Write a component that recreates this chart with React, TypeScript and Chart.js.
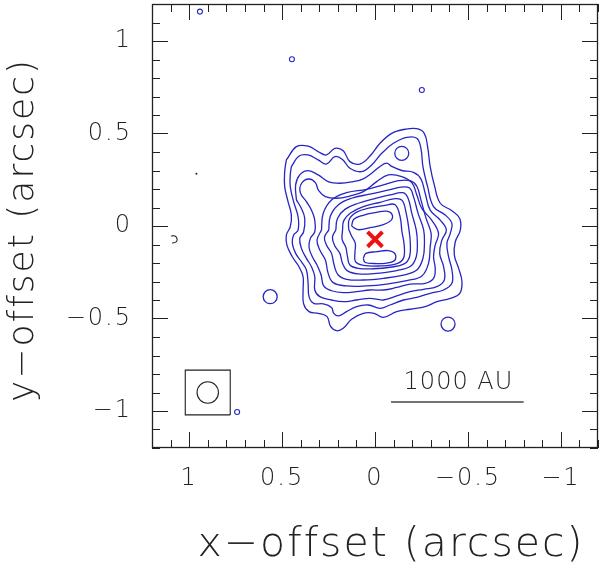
import React, { useEffect, useRef } from "react";
import { Chart, registerables } from "chart.js";
Chart.register(...registerables);

type P = [number, number];

// axis setup (arcsec)
const axisMin = -1.2;
const axisMax = 1.2;
const minorStep = 0.1;
const majorTicks = [-1, -0.5, 0, 0.5, 1];
const majorTickLabels = ["−1", "−0.5", "0", "0.5", "1"];
const xTitle = "x−offset (arcsec)";
const yTitle = "y−offset (arcsec)";

// contour levels, outermost first (x, y offsets in arcsec)
const contour1: P[] = [
  [0.477, 0.357], [0.423, 0.429], [0.36, 0.432], [0.306, 0.402], [0.261, 0.384], [0.216, 0.42], [0.171, 0.407],
  [0.135, 0.348], [0.081, 0.335], [0.027, 0.378], [-0.027, 0.447], [-0.09, 0.501], [-0.162, 0.523], [-0.225, 0.526],
  [-0.265, 0.501], [-0.283, 0.429], [-0.297, 0.321], [-0.319, 0.222], [-0.351, 0.123], [-0.414, 0.083], [-0.456, 0.041],
  [-0.459, -0.022], [-0.432, -0.085], [-0.427, -0.157], [-0.45, -0.229], [-0.468, -0.301], [-0.456, -0.364],
  [-0.405, -0.391], [-0.333, -0.409], [-0.27, -0.436], [-0.189, -0.45], [-0.117, -0.463], [-0.045, -0.494],
  [0.005, -0.472], [0.063, -0.472], [0.126, -0.504], [0.171, -0.553], [0.207, -0.566], [0.24, -0.541], [0.258, -0.49],
  [0.306, -0.472], [0.355, -0.463], [0.384, -0.421], [0.387, -0.346], [0.387, -0.274], [0.409, -0.22], [0.445, -0.166],
  [0.474, -0.103], [0.477, -0.049], [0.456, -0.004], [0.45, 0.059], [0.468, 0.132], [0.486, 0.213], [0.486, 0.294],
];
const contour2: P[] = [
  [0.45, 0.321], [0.409, 0.378], [0.36, 0.384], [0.306, 0.357], [0.261, 0.335], [0.216, 0.375], [0.175, 0.36],
  [0.135, 0.312], [0.072, 0.294], [0.018, 0.33], [-0.036, 0.393], [-0.099, 0.447], [-0.171, 0.479], [-0.225, 0.474],
  [-0.247, 0.42], [-0.258, 0.321], [-0.283, 0.213], [-0.315, 0.105], [-0.378, 0.059], [-0.414, 0.014], [-0.405, -0.04],
  [-0.387, -0.094], [-0.396, -0.166], [-0.414, -0.238], [-0.414, -0.31], [-0.369, -0.346], [-0.297, -0.364],
  [-0.225, -0.386], [-0.153, -0.4], [-0.081, -0.427], [-0.027, -0.445], [0.036, -0.427], [0.099, -0.436],
  [0.153, -0.463], [0.195, -0.486], [0.222, -0.472], [0.234, -0.44], [0.279, -0.421], [0.33, -0.418], [0.355, -0.382],
  [0.36, -0.31], [0.369, -0.238], [0.396, -0.193], [0.427, -0.148], [0.445, -0.094], [0.438, -0.049], [0.414, -0.022],
  [0.414, 0.05], [0.438, 0.132], [0.456, 0.213], [0.456, 0.276],
];
const contour3: P[] = [
  [0.423, 0.141], [0.427, 0.222], [0.405, 0.276], [0.36, 0.299], [0.306, 0.276], [0.252, 0.24], [0.189, 0.231],
  [0.117, 0.24], [0.063, 0.255], [0.018, 0.285], [-0.027, 0.322], [-0.063, 0.34], [-0.09, 0.322], [-0.144, 0.3],
  [-0.207, 0.29], [-0.247, 0.255], [-0.27, 0.177], [-0.297, 0.086], [-0.351, 0.032], [-0.384, -0.022], [-0.36, -0.076],
  [-0.348, -0.148], [-0.369, -0.22], [-0.373, -0.292], [-0.333, -0.328], [-0.261, -0.342], [-0.189, -0.355],
  [-0.117, -0.378], [-0.045, -0.4], [0.027, -0.391], [0.099, -0.4], [0.171, -0.409], [0.234, -0.4], [0.297, -0.382],
  [0.324, -0.346], [0.324, -0.274], [0.342, -0.22], [0.369, -0.175], [0.396, -0.121], [0.405, -0.067], [0.384, -0.031],
  [0.378, 0.041], [0.396, 0.095],
];
const contour4: P[] = [
  [0.369, 0.132], [0.402, 0.18], [0.395, 0.231], [0.355, 0.254], [0.321, 0.234], [0.303, 0.191], [0.267, 0.159],
  [0.207, 0.15], [0.135, 0.162], [0.063, 0.186], [-0.009, 0.24], [-0.072, 0.276], [-0.144, 0.267], [-0.198, 0.234],
  [-0.225, 0.168], [-0.252, 0.095], [-0.305, 0.032], [-0.342, -0.04], [-0.324, -0.103], [-0.315, -0.166],
  [-0.324, -0.229], [-0.315, -0.283], [-0.27, -0.31], [-0.189, -0.314], [-0.117, -0.332], [-0.045, -0.346],
  [0.027, -0.346], [0.099, -0.355], [0.171, -0.36], [0.234, -0.35], [0.276, -0.324], [0.29, -0.265], [0.312, -0.211],
  [0.337, -0.166], [0.355, -0.115], [0.348, -0.067], [0.324, -0.031], [0.324, 0.032], [0.342, 0.086],
];
const contour5: P[] = [
  [0.288, -0.022], [0.279, 0.068], [0.234, 0.141], [0.153, 0.18], [0.045, 0.198], [-0.045, 0.222], [-0.126, 0.245],
  [-0.189, 0.245], [-0.225, 0.215], [-0.247, 0.141], [-0.275, 0.041], [-0.302, -0.04], [-0.297, -0.112],
  [-0.288, -0.202], [-0.252, -0.27], [-0.171, -0.295], [-0.063, -0.314], [0.045, -0.324], [0.153, -0.324],
  [0.225, -0.306], [0.252, -0.256], [0.267, -0.184], [0.297, -0.13], [0.312, -0.076],
];
const contour6: P[] = [
  [0.249, -0.022], [0.24, 0.054], [0.198, 0.114], [0.126, 0.15], [0.027, 0.172], [-0.063, 0.192], [-0.139, 0.21],
  [-0.186, 0.205], [-0.207, 0.159], [-0.232, 0.068], [-0.262, -0.022], [-0.266, -0.094], [-0.258, -0.175],
  [-0.225, -0.238], [-0.153, -0.265], [-0.045, -0.283], [0.063, -0.292], [0.153, -0.288], [0.198, -0.265],
  [0.22, -0.211], [0.234, -0.148], [0.261, -0.103], [0.272, -0.061],
];
const contour7: P[] = [
  [0.211, -0.022], [0.202, 0.041], [0.162, 0.09], [0.09, 0.123], [0.0, 0.148], [-0.081, 0.168], [-0.15, 0.18],
  [-0.178, 0.15], [-0.198, 0.068], [-0.222, -0.022], [-0.228, -0.094], [-0.222, -0.166], [-0.193, -0.216],
  [-0.117, -0.241], [-0.009, -0.256], [0.09, -0.259], [0.15, -0.241], [0.175, -0.202], [0.189, -0.148],
  [0.216, -0.108], [0.229, -0.061],
];
const contour8: P[] = [
  [0.175, -0.025], [0.168, 0.029], [0.132, 0.07], [0.063, 0.105], [-0.027, 0.128], [-0.108, 0.148], [-0.146, 0.138],
  [-0.168, 0.068], [-0.183, -0.022], [-0.19, -0.094], [-0.186, -0.166], [-0.157, -0.205], [-0.081, -0.223],
  [0.009, -0.231], [0.09, -0.229], [0.135, -0.211], [0.148, -0.166], [0.157, -0.115], [0.177, -0.072],
];
const contour9: P[] = [
  [0.142, -0.018], [0.139, 0.035], [0.099, 0.075], [0.027, 0.098], [-0.054, 0.112], [-0.108, 0.115], [-0.135, 0.05],
  [-0.145, -0.031], [-0.157, -0.103], [-0.153, -0.175], [-0.114, -0.205], [-0.027, -0.216], [0.063, -0.213],
  [0.105, -0.193], [0.108, -0.144], [0.106, -0.094], [0.126, -0.054],
];
const peakNorth: P[] = [
  [0.126, 0.0], [0.114, 0.036], [0.063, 0.058], [0.0, 0.072], [-0.063, 0.08], [-0.092, 0.062], [-0.085, 0.029],
  [-0.036, 0.005], [0.027, -0.009], [0.09, -0.02],
];
const peakSouth: P[] = [
  [0.063, -0.175], [0.049, -0.148], [-0.009, -0.139], [-0.072, -0.133], [-0.108, -0.151], [-0.105, -0.187],
  [-0.054, -0.202], [0.018, -0.202], [0.054, -0.196],
];
const contours: P[][] = [contour1, contour2, contour3, contour4, contour5, contour6, contour7, contour8, contour9, peakNorth, peakSouth];

// isolated small contours
const islandX = [0.564, -0.393, -0.144];
const islandY = [-0.382, -0.53, 0.393];
const specX = [-0.252, 0.447, 0.942, 0.742];
const specY = [0.735, 0.901, 1.159, -1.005];
const hookX = [1.097, 1.076, 1.065, 1.07, 1.092];
const hookY = [-0.054, -0.054, -0.07, -0.086, -0.092];
const dotX = [0.961];
const dotY = [0.283];

// source position
const sourceX = [0];
const sourceY = [-0.072];

// beam
const beamCenter: P = [0.9, -0.9];
const beamHalfBox = 0.121;

// scale bar
const scaleBarX = [-0.086, -0.8];
const scaleBarY = [-0.951, -0.951];
const scaleBarLabel = "1000 AU";
const scaleBarLabelPos: P = [-0.449, -0.846];

const BLUE = "#2626c4";
const INK = "#222222";
const FONT = "'DejaVu Sans', 'Liberation Sans', sans-serif";

const isMajor = (v: number) => majorTicks.some((m) => Math.abs(m - v) < 1e-6);

const toPts = (arr: P[]) => {
  const pts = arr.map(([x, y]) => ({ x, y }));
  pts.push({ ...pts[0] });
  return pts;
};

const zeroPad = (s: any) => {
  s.paddingTop = 0;
  s.paddingBottom = 0;
  s.paddingLeft = 0;
  s.paddingRight = 0;
};

const framePlugin = {
  id: "frameTicks",
  beforeDraw(chart: any) {
    chart.ctx.letterSpacing = "2px";
  },
  beforeDatasetsDraw(chart: any) {
    chart.ctx.letterSpacing = "0px";
  },
  afterDraw(chart: any) {
    const { ctx, chartArea: a, scales } = chart;
    const xs = scales.x;
    const ys = scales.y;
    ctx.save();
    ctx.strokeStyle = INK;
    ctx.lineWidth = 1;
    ctx.beginPath();
    xs.ticks.forEach((t: any) => {
      const px = Math.round(xs.getPixelForValue(t.value)) + 0.5;
      const len = isMajor(t.value) ? 16 : 8;
      ctx.moveTo(px, a.bottom);
      ctx.lineTo(px, a.bottom - len);
      ctx.moveTo(px, a.top);
      ctx.lineTo(px, a.top + len);
    });
    ys.ticks.forEach((t: any) => {
      const py = Math.round(ys.getPixelForValue(t.value)) + 0.5;
      const len = isMajor(t.value) ? 16 : 8;
      ctx.moveTo(a.left, py);
      ctx.lineTo(a.left + len, py);
      ctx.moveTo(a.right, py);
      ctx.lineTo(a.right - len, py);
    });
    ctx.stroke();
    ctx.lineWidth = 1.3;
    ctx.strokeRect(a.left + 0.5, a.top + 0.5, a.right - a.left - 1, a.bottom - a.top - 1);

    ctx.fillStyle = INK;
    ctx.textAlign = "center";
    ctx.textBaseline = "middle";
    // scale bar label
    ctx.letterSpacing = "1px";
    ctx.font = `200 24px ${FONT}`;
    ctx.fillText(scaleBarLabel, xs.getPixelForValue(scaleBarLabelPos[0]), ys.getPixelForValue(scaleBarLabelPos[1]));
    // axis titles
    ctx.letterSpacing = "2px";
    ctx.font = `200 41px ${FONT}`;
    ctx.fillText(xTitle, (a.left + a.right) / 2 + 16, 545);
    ctx.font = `200 36px ${FONT}`;
    ctx.translate(24, (a.top + a.bottom) / 2 + 4);
    ctx.rotate(-Math.PI / 2);
    ctx.fillText(yTitle, 0, 0);
    ctx.restore();
  },
};

export default function App() {
  const ref = useRef<HTMLCanvasElement | null>(null);
  useEffect(() => {
    if (!ref.current) return;
    const datasets: any[] = contours.map((c) => ({
      data: toPts(c),
      showLine: true,
      borderColor: BLUE,
      borderWidth: 1.3,
      pointRadius: 0,
      tension: 0.4,
      fill: false,
    }));
    datasets.push({
      data: islandX.map((x, i) => ({ x, y: islandY[i] })),
      pointStyle: "circle",
      pointRadius: 7,
      borderColor: BLUE,
      backgroundColor: "rgba(0,0,0,0)",
      borderWidth: 1.3,
    });
    datasets.push({
      data: specX.map((x, i) => ({ x, y: specY[i] })),
      pointStyle: "circle",
      pointRadius: 2.5,
      borderColor: BLUE,
      backgroundColor: "rgba(0,0,0,0)",
      borderWidth: 1.1,
    });
    datasets.push({
      data: hookX.map((x, i) => ({ x, y: hookY[i] })),
      showLine: true,
      pointRadius: 0,
      tension: 0.4,
      borderColor: INK,
      borderWidth: 1.1,
    });
    datasets.push({
      data: dotX.map((x, i) => ({ x, y: dotY[i] })),
      pointRadius: 1,
      borderWidth: 0,
      backgroundColor: INK,
    });
    const [bx, by] = beamCenter;
    datasets.push({
      data: [
        { x: bx - beamHalfBox, y: by - beamHalfBox },
        { x: bx + beamHalfBox, y: by - beamHalfBox },
        { x: bx + beamHalfBox, y: by + beamHalfBox },
        { x: bx - beamHalfBox, y: by + beamHalfBox },
        { x: bx - beamHalfBox, y: by - beamHalfBox },
      ],
      showLine: true,
      pointRadius: 0,
      tension: 0,
      borderColor: INK,
      borderWidth: 1.1,
    });
    datasets.push({
      data: [{ x: bx, y: by }],
      pointStyle: "circle",
      pointRadius: 10.7,
      borderColor: INK,
      backgroundColor: "rgba(0,0,0,0)",
      borderWidth: 1.1,
    });
    datasets.push({
      data: scaleBarX.map((x, i) => ({ x, y: scaleBarY[i] })),
      showLine: true,
      pointRadius: 0,
      borderColor: "#444444",
      borderWidth: 1.4,
    });
    datasets.push({
      data: sourceX.map((x, i) => ({ x, y: sourceY[i] })),
      pointStyle: "crossRot",
      pointRadius: 10.5,
      borderColor: "#ee1111",
      borderWidth: 4,
    });

    const tickCb = (v: any) => {
      const n = Number(v);
      const i = majorTicks.findIndex((m) => Math.abs(m - n) < 1e-6);
      return i >= 0 ? majorTickLabels[i] : "";
    };

    const chart = new Chart(ref.current, {
      type: "scatter",
      data: { datasets },
      options: {
        animation: false,
        responsive: true,
        maintainAspectRatio: false,
        layout: { autoPadding: false, padding: { top: 4, right: 2, left: 0, bottom: 0 } },
        plugins: { legend: { display: false }, tooltip: { enabled: false } },
        scales: {
          x: {
            type: "linear",
            min: axisMin,
            max: axisMax,
            reverse: true,
            grid: { display: false, drawTicks: false },
            border: { display: false },
            ticks: {
              stepSize: minorStep,
              autoSkip: false,
              maxRotation: 0,
              padding: 16,
              color: INK,
              font: { family: FONT, size: 24, weight: "200" as any },
              callback: tickCb,
            },
            title: { display: false },
            afterFit: (s: any) => {
              s.height = 116;
              zeroPad(s);
            },
          },
          y: {
            type: "linear",
            min: axisMin,
            max: axisMax,
            grid: { display: false, drawTicks: false },
            border: { display: false },
            ticks: {
              stepSize: minorStep,
              autoSkip: false,
              padding: 20,
              color: INK,
              font: { family: FONT, size: 24, weight: "200" as any },
              callback: tickCb,
            },
            title: { display: false },
            afterFit: (s: any) => {
              s.width = 152;
              zeroPad(s);
            },
          },
        },
      },
      plugins: [framePlugin],
    });
    return () => chart.destroy();
  }, []);

  return (
    <div style={{ position: "fixed", left: 0, top: 0, width: 600, height: 564, background: "#fff" }}>
      <canvas ref={ref} />
    </div>
  );
}
